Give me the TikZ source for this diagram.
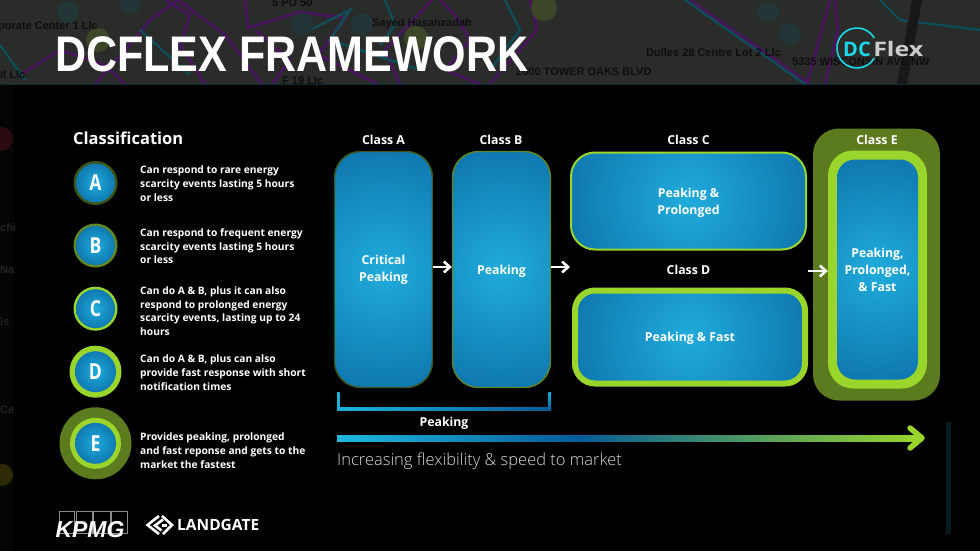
\documentclass[tikz,border=0pt]{standalone}
\usepackage{fontspec}
\setmainfont{Open Sans}
\newfontfamily\lightfont{Open Sans Light}
\newfontfamily\titlefont{Liberation Sans}
\newfontfamily\mapfont{Liberation Sans}
\usetikzlibrary{calc,arrows.meta}
\definecolor{mapbg}{HTML}{2A2C2A}
\definecolor{pathp}{HTML}{46175A}
\definecolor{patht}{HTML}{0E4C58}
\definecolor{bluein}{HTML}{20ABDB}
\definecolor{blueout}{HTML}{055C98}
\definecolor{lime}{HTML}{9AD52C}
\definecolor{olive}{HTML}{5C7A1E}
\definecolor{oliveA}{HTML}{3F5514}
\definecolor{oliveB}{HTML}{628722}
\definecolor{cya}{HTML}{1BD9E8}
\definecolor{mapink}{HTML}{0E0E0E}
\definecolor{stripR}{HTML}{2A0A10}
\definecolor{stripY}{HTML}{2C2A05}
\definecolor{stripT}{HTML}{242428}
\pgfdeclareradialshading{cardshade}{\pgfpoint{0bp}{0bp}}{color(0bp)=(bluein); color(40bp)=(blueout); color(75bp)=(blueout)}
\tikzset{
  x=1pt,y=-1pt,
  card/.style n args={2}{rectangle,rounded corners=#1,inner sep=0pt,align=center,text=white,
    font=\fontsize{12.3}{15}\selectfont\bfseries,
    path picture={\shade[shading=cardshade]
      ($(path picture bounding box.center)+(-#2,-#2)$) rectangle ($(path picture bounding box.center)+(#2,#2)$);}},
  lbl/.style={text=white,font=\fontsize{12.3}{15}\selectfont\bfseries,align=center,inner sep=0pt},
  desc/.style={text=white,font=\fontsize{10.25}{13.7}\selectfont\bfseries,align=left,anchor=north west,inner sep=0pt},
  letter/.style={text=white,font=\fontsize{22}{22}\selectfont\bfseries,inner sep=0pt,xscale=.8},
  disc/.style={circle,minimum size=#1,inner sep=0pt,shading=cardshade},
  flow/.style={white,line width=2.6pt,-{Straight Barb[length=6pt,width=11pt,line width=2.6pt]}},
  maptxt/.style={text=mapink,font=\mapfont\fontsize{11}{11}\selectfont\bfseries,inner sep=0pt,anchor=west},
  striptxt/.style={text=stripT,font=\mapfont\fontsize{11}{11}\selectfont\bfseries,inner sep=0pt,anchor=west},
  pathA/.style={pathp,line width=3pt},
  pathB/.style={patht,line width=2.4pt},
}
\begin{document}
\begin{tikzpicture}
\useasboundingbox (0,0) rectangle (980,551);
\fill[black] (0,0) rectangle (980,551);
% map band
\fill[mapbg] (0,0) rectangle (980,84);
\fill[black!88!mapbg] (0,84) rectangle (14,551);
\begin{scope}
\clip (0,84) rectangle (14,551);
\fill[stripR] (1,139) circle (12);
\fill[stripY] (2,475) circle (11);
\node[striptxt] (s1) at (0,228) {chis};
\node[striptxt] (s2) at (0,270) {Nai};
\node[striptxt] (s3) at (0,322) {is};
\node[striptxt] (s4) at (0,410) {Ce};
\end{scope}
\begin{scope}
\clip (0,0) rectangle (980,84);
\draw[pathA] (20,75) -- (60,50) -- (105,65) -- (125,84);
\draw[pathA] (95,84) -- (130,45) -- (150,20) -- (178,0);
\draw[pathA] (178,0) -- (225,35) -- (262,84);
\draw[pathA] (165,0) -- (190,15) -- (180,45) -- (205,84);
\draw[pathA] (245,0) -- (248,28) -- (300,12) -- (345,18) -- (318,55) -- (378,84);
\draw[pathA] (255,30) -- (290,60) -- (272,84);
\draw[pathA] (400,84) -- (385,50) -- (432,0);
\draw[pathA] (440,0) -- (455,15) -- (470,40) -- (445,70) -- (480,84);
\draw[pathA] (490,84) -- (537,30) -- (530,0);
\draw[pathA] (690,0) -- (810,84);
\draw[pathA] (807,84) -- (830,0);
\draw[pathA] (825,84) -- (838,30) -- (835,0);
\draw[pathB] (0,45) -- (25,80);
\draw[pathB] (140,30) -- (190,75);
\draw[pathB] (300,35) -- (350,10) -- (330,40) -- (420,70);
\draw[pathB] (490,70) -- (520,30) -- (505,0);
\draw[pathB] (385,0) -- (395,25) -- (380,45);
\draw[pathB] (685,0) -- (805,84);
\draw[pathB] (880,0) -- (900,20) -- (980,30);
\fill[black!45!mapbg] (912,0) -- (922,0) -- (907,84) -- (897,84) -- cycle;
\fill[olive!35!mapbg] (98,40) circle (12);
\fill[olive!35!mapbg] (416,38) circle (12);
\fill[olive!35!mapbg] (544,8) circle (13);
\fill[patht!30!mapbg] (68,12) circle (11);
\fill[patht!30!mapbg] (130,3) circle (11);
\fill[patht!30!mapbg] (302,24) circle (11);
\fill[patht!30!mapbg] (362,24) circle (11);
\fill[patht!30!mapbg] (768,12) circle (11);
\fill[patht!30!mapbg] (790,34) circle (11);
\node[maptxt] (m1) at (-2,27) {porate Center 1 Llc};
\node[maptxt] (m2) at (372,24) {Sayed Hasanzadah};
\node[maptxt] (m3) at (646,53) {Dulles 28 Centre Lot 2 Llc};
\node[maptxt] (m4) at (516,72) {2000 TOWER OAKS BLVD};
\node[maptxt] (m5) at (792,62) {5335 WISCONSIN AVE NW};
\node[maptxt] (m6) at (272,3) {5 PO 50};
\node[maptxt] (m7) at (282,81) {F 19 Llc};
\node[maptxt] (m8) at (0,75) {Il Llc};
\end{scope}
\fill[patht!60!black] (0,84) rectangle (980,85.5);
% title
\node[text=white,font=\titlefont\fontsize{50}{50}\selectfont\bfseries,anchor=west,inner sep=0pt,xscale=.861] (title) at (55,54) {DCFLEX FRAMEWORK};
% dcflex logo
\draw[cya,line width=1.6pt] (874.3,58) arc[start angle=30,end angle=330,radius=20];
\node[text=cya,font=\fontsize{20}{20}\selectfont\bfseries,inner sep=0pt,anchor=west] (dc) at (843,49.5) {DC};
\node[text=black!20,font=\fontsize{20}{20}\selectfont\bfseries,inner sep=0pt,anchor=west,xscale=1.25] (fx) at (873,49.5) {Flex};
% classification
\node[text=white,font=\fontsize{16.5}{16.5}\selectfont\bfseries,anchor=west,inner sep=0pt] (cl) at (73,138) {Classification};
\fill[oliveA] (95.5,183) circle (22);
\node[disc=39] (A) at (95.5,183) {}; \node[letter] (tA) at (A) {A};
\fill[oliveB] (95.5,245.5) circle (22);
\node[disc=39] (B) at (95.5,245.5) {}; \node[letter] (tB) at (B) {B};
\fill[lime] (95.5,308.7) circle (22);
\node[disc=39] (C) at (95.5,308.7) {}; \node[letter] (tC) at (C) {C};
\fill[lime] (95.5,371.7) circle (26);
\node[disc=41] (D) at (95.5,371.7) {}; \node[letter] (tD) at (D) {D};
\fill[olive] (95.5,443.3) circle (36);
\fill[lime] (95.5,443.3) circle (25.5);
\node[disc=41] (E) at (95.5,443.3) {}; \node[letter] (tE) at (E) {E};
\node[desc] (dA) at (140,166) {Can respond to rare energy\\scarcity events lasting 5 hours\\or less};
\node[desc] (dB) at (140,228.5) {Can respond to frequent energy\\scarcity events lasting 5 hours\\or less};
\node[desc] (dC) at (140,286.5) {Can do A \& B, plus it can also\\respond to prolonged energy\\scarcity events, lasting up to 24\\hours};
\node[desc] (dD) at (140,355) {Can do A \& B, plus can also\\provide fast response with short\\notification times};
\node[desc] (dE) at (140,433) {Provides peaking, prolonged\\and fast reponse and gets to the\\market the fastest};
% logos
\draw[black!45,line width=.5pt] (59,511) rectangle (74,533) (76,511) rectangle (92,533) (93,511) rectangle (110,533) (111,511) rectangle (127,533);
\node[text=white,font=\titlefont\fontsize{23}{23}\selectfont\bfseries\itshape,inner sep=0pt] (kpmg) at (90,530) {KPMG};
\begin{scope}[white,line width=2.6pt]
\draw (159,516) -- (147.5,525) -- (159,534);
\draw (163,519.5) -- (155,525.5) -- (161.5,530.5);
\draw (162,516) -- (172,525) -- (163,534);
\draw (162,525.5) -- (167,525.5);
\end{scope}
\node[text=white,font=\fontsize{15.5}{15.5}\selectfont\bfseries,anchor=west,inner sep=0pt] (land) at (177,524.5) {LANDGATE};
% class labels
\node[lbl] (lA) at (383.5,140) {Class A};
\node[lbl] (lB) at (501,140) {Class B};
\node[lbl] (lC) at (688.5,140) {Class C};
\node[lbl] (lD) at (688.5,270) {Class D};
% cards
\node[card={26}{118},draw=oliveA,line width=1.4pt,minimum width=98,minimum height=236] (cA) at (383.5,269.5) {Critical\\[2pt]Peaking};
\node[card={26}{118},draw=oliveB,line width=1.4pt,minimum width=98,minimum height=236] (cB) at (501.5,269.5) {\rule{0pt}{12pt}Peaking};
\node[card={24}{118},draw=lime,line width=2pt,minimum width=235,minimum height=97] (cC) at (688.5,201) {\rule{0pt}{12.4pt}Peaking \&\\[2pt]Prolonged};
\node[card={20}{116},draw=lime,line width=6pt,minimum width=230,minimum height=93] (cD) at (690,337) {\rule{0pt}{12pt}Peaking \& Fast};
\node[rectangle,fill=olive,rounded corners=26,minimum width=127,minimum height=272,inner sep=0pt] (oE) at (876.5,264.5) {};
\node[lbl] (lE) at (877,140) {Class E};
\node[rectangle,fill=lime,rounded corners=25,minimum width=99,minimum height=238,inner sep=0pt] (mE) at (877.5,269.5) {};
\node[card={18}{110},minimum width=81,minimum height=220] (cE) at (877.5,269.5) {Peaking,\\[2pt]Prolonged,\\[2pt]\& Fast};
% arrows
\draw[flow] ([yshift=2.5]cA.east) -- ([yshift=2.5]cB.west);
\draw[flow] ([yshift=2.5]cB.east) -- ([yshift=2.5]cB.east -| cC.west);
\coordinate (a3s) at (808,271);
\draw[flow] (a3s) -- (a3s -| mE.west);
% bracket
\shade[left color=bluein!80!cya,right color=blueout] (337,407.5) rectangle (551,410);
\shade[top color=bluein!80!cya,bottom color=bluein] (337,392) rectangle (339.5,410);
\shade[top color=bluein!80!cya,bottom color=blueout] (548.5,392) rectangle (551,410);
\node[lbl] (pk) at (444,423) {Peaking};
% flexibility arrow
\shade[left color=bluein!70!cya,right color=blueout] (337,435) rectangle (578,441.5);
\shade[left color=blueout,right color=lime] (578,435) rectangle (918,441.5);
\draw[lime,line width=5.5pt,line cap=round,line join=round] (910,428) -- (922,438) -- (910,448);
\node[text=white!85!black,font=\lightfont\fontsize{16.5}{16.5}\selectfont,anchor=west,inner sep=0pt] (inc) at (337,461) {Increasing flexibility \& speed to market};
\fill[patht!35!black] (945.5,422) rectangle (951,534);
\end{tikzpicture}
\end{document}
